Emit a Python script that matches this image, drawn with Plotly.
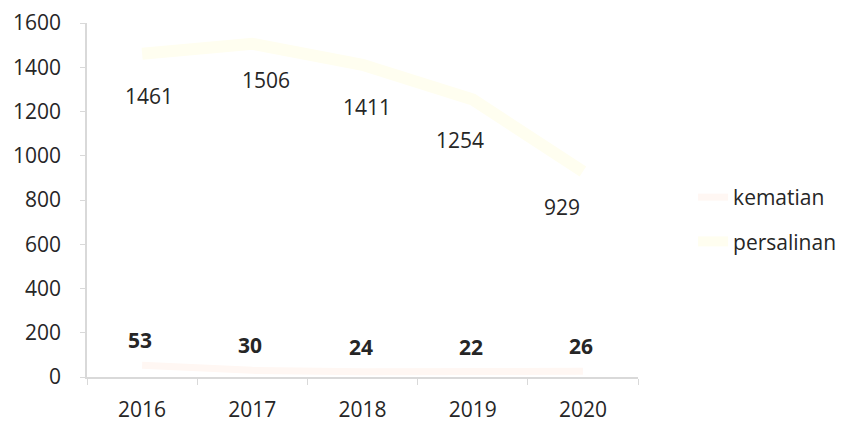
import plotly.graph_objects as go

# Data
years = ["2016", "2017", "2018", "2019", "2020"]
kematian = [53, 30, 24, 22, 26]
persalinan = [1461, 1506, 1411, 1254, 929]
y_ticks = [0, 200, 400, 600, 800, 1000, 1200, 1400, 1600]

# hand-placed label nudges (pixels) for the persalinan values
persalinan_dx = [7, 14, 4, -13, -21]
persalinan_dy = [-42, -36, -42, -40, -36]

FONT = "Open Sans"
TEXT = "#262626"
SIZE = 21

fig = go.Figure()

fig.add_trace(go.Scatter(
    x=years, y=kematian, name="kematian", mode="lines",
    line=dict(color="#FFF7F3", width=7),
    legendgroup="a",
))
fig.add_trace(go.Scatter(
    x=years, y=persalinan, name="persalinan", mode="lines",
    line=dict(color="#FFFEF0", width=12),
    legendgroup="b",
))

# value labels: persalinan below its line, kematian (bold) above its line
annotations = []
for i, v in enumerate(persalinan):
    annotations.append(dict(
        x=i, y=v, xref="x", yref="y", text=str(v), showarrow=False,
        xshift=persalinan_dx[i], yshift=persalinan_dy[i],
        font=dict(family=FONT, size=SIZE, color=TEXT),
    ))
for i, v in enumerate(kematian):
    annotations.append(dict(
        x=i, y=v, xref="x", yref="y", text=f"<b>{v}</b>", showarrow=False,
        xshift=-2, yshift=25,
        font=dict(family=FONT, size=SIZE, color=TEXT),
    ))

fig.update_layout(
    width=841, height=424,
    margin=dict(l=87, r=203, t=23, b=47, autoexpand=False),
    paper_bgcolor="white", plot_bgcolor="white",
    font=dict(family=FONT, size=SIZE, color=TEXT),
    annotations=annotations,
    showlegend=True,
    legend=dict(
        x=1.1, y=0.445, xanchor="left", yanchor="middle",
        font=dict(family=FONT, size=SIZE, color=TEXT),
        tracegroupgap=14, itemwidth=30,
        bgcolor="rgba(0,0,0,0)",
    ),
    xaxis=dict(
        type="category", range=[-0.5, 4.5], automargin=False,
        showline=True, linecolor="#D9D9D9", linewidth=1.5,
        ticks="outside", tickson="boundaries", ticklen=6, tickcolor="#D9D9D9",
        showgrid=False, zeroline=False, ticklabelstandoff=13,
        tickfont=dict(family=FONT, size=SIZE, color=TEXT),
    ),
    yaxis=dict(
        range=[0, 1600], tickvals=y_ticks, automargin=False,
        showline=True, linecolor="#D9D9D9", linewidth=1.5,
        ticks="outside", ticklen=5, tickcolor="#D9D9D9",
        showgrid=False, zeroline=False, ticklabelstandoff=15,
        tickfont=dict(family=FONT, size=SIZE, color=TEXT),
    ),
)

fig.write_html("out.html")
